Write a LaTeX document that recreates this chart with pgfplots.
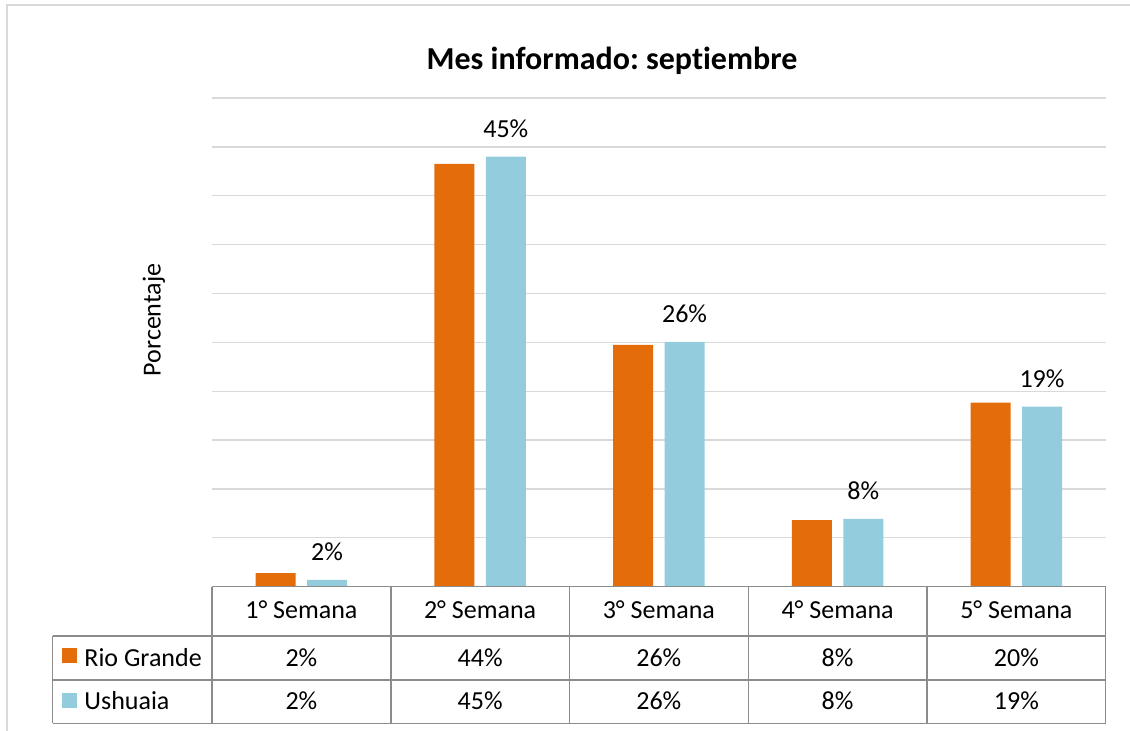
\documentclass[border=0pt]{standalone}
\usepackage{pgfplots}
\pgfplotsset{compat=1.18}
\usepackage{fontspec}
\setmainfont{Carlito}[Ligatures={NoCommon,NoContextual}]
\frenchspacing
\definecolor{rg}{HTML}{E46C0A}
\definecolor{us}{HTML}{93CDDD}
\definecolor{gridc}{HTML}{D9D9D9}
\definecolor{tabc}{HTML}{8C8C8C}
\begin{document}
\begin{tikzpicture}[x=1pt,y=1pt]
\useasboundingbox (0,0) rectangle (565,365.5);
\draw[gridc,line width=0.75pt] (3.5,0) -- (3.5,363) -- (565,363);
\begin{axis}[
  at={(106pt,72.15pt)}, anchor=south west,
  scale only axis, width=446.85pt, height=244.35pt,
  xmin=-0.5, xmax=4.5, ymin=1.3, ymax=51.3,
  ytick={1.3,6.3,...,51.3}, yticklabels={},
  ymajorgrids, grid style={gridc,line width=0.65pt},
  axis line style={draw=none}, major tick length=0,
  xtick={0,1,2,3,4},
  xticklabels={1° Semana,2° Semana,3° Semana,4° Semana,5° Semana},
  xticklabel style={anchor=base,yshift=-16.15pt},
  ticklabel style={font=\fontsize{13}{15.6}\selectfont},
  ybar=5.7pt, bar width=20pt, clip=false,
]
\addplot[draw=none,fill=rg] coordinates {(0,2.70) (1,44.55) (2,26.03) (3,8.12) (4,20.13)};
\addplot[draw=none,fill=us,
  point meta=explicit symbolic, nodes near coords,
  every node near coord/.append style={anchor=base,yshift=9.5pt,font=\fontsize{13}{15.6}\selectfont,text=black}]
  coordinates {(0,1.99) [2\%] (1,45.29) [45\%] (2,26.34) [26\%] (3,8.23) [8\%] (4,19.72) [19\%]};
\end{axis}
% data table
\begin{scope}[tabc,line width=0.75pt]
\draw (106,72.15) -- (552.85,72.15);
\draw (26.35,47.5) -- (552.85,47.5);
\draw (26.35,25.5) -- (552.85,25.5);
\draw (26.35,3.85) -- (552.85,3.85);
\draw (26.35,47.5) -- (26.35,3.85);
\foreach \xx in {106,195.4,284.7,374.2,463.6,552.85} {\draw (\xx,72.15) -- (\xx,3.85);}
\end{scope}
\fill[rg] (31,34.15) rectangle (38.35,41.5);
\fill[us] (31,11.5) rectangle (38.35,18.9);
\begin{scope}[every node/.style={font=\fontsize{13}{15.6}\selectfont,inner sep=0pt}]
\node[anchor=base west] at (42,32.2) {Rio Grande};
\node[anchor=base west] at (42,10.5) {Ushuaia};
\foreach \xx/\a/\b in {150.7/2/2,240.1/44/45,329.4/26/26,418.8/8/8,508.2/20/19} {
  \node[anchor=base] at (\xx,32.2) {\a\%};
  \node[anchor=base] at (\xx,10.5) {\b\%};
}
\node[rotate=90] at (77,205.5) {Porcentaje};
\end{scope}
\node[anchor=base,inner sep=0pt,font=\fontsize{16}{19.2}\selectfont\bfseries] at (306,330.5) {Mes informado: sept\kern0pt iembre};
\end{tikzpicture}
\end{document}
